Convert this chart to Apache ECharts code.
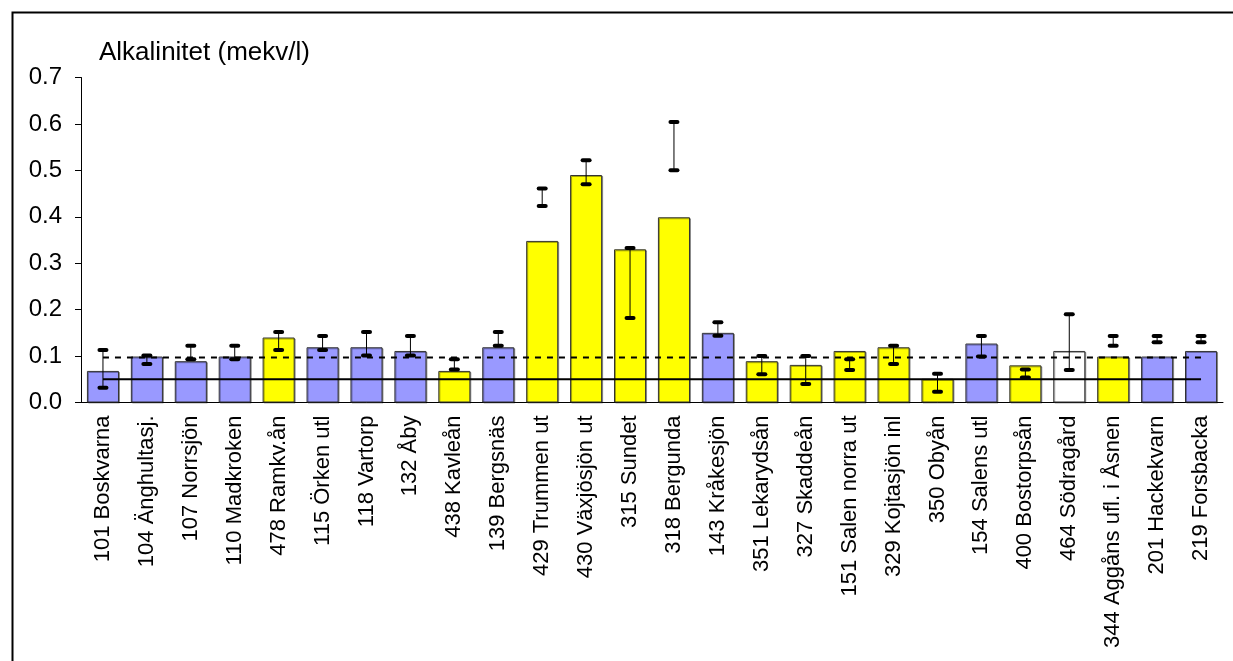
<!DOCTYPE html>
<html>
<head>
<meta charset="utf-8">
<script src="https://cdn.jsdelivr.net/npm/echarts@6/dist/echarts.min.js"></script>
<style>html,body{margin:0;padding:0;background:#fff;}#c{width:1233px;height:661px;}</style>
</head>
<body>
<div id="c"></div>
<script>
const categories = ['101 Boskvarna','104 Änghultasj.','107 Norrsjön','110 Madkroken','478 Ramkv.ån','115 Örken utl','118 Vartorp','132 Åby','438 Kavleån','139 Bergsnäs','429 Trummen ut','430 Växjösjön ut','315 Sundet','318 Bergunda','143 Kråkesjön','351 Lekarydsån','327 Skaddeån','151 Salen norra ut','329 Kojtasjön inl','350 Obyån','154 Salens utl','400 Bostorpsån','464 Södragård','344 Aggåns ufl. i Åsnen','201 Hackekvarn','219 Forsbacka'];
const values  = [0.068,0.099,0.089,0.099,0.140,0.119,0.119,0.111,0.068,0.119,0.348,0.490,0.330,0.399,0.150,0.089,0.081,0.111,0.119,0.051,0.127,0.080,0.111,0.099,0.099,0.111];
const errHigh = [0.113,0.101,0.122,0.122,0.152,0.143,0.152,0.143,0.093,0.152,0.461,0.522,0.333,0.604,0.173,0.100,0.100,0.093,0.122,0.062,0.143,0.071,0.190,0.143,0.143,0.143];
const errLow  = [0.032,0.083,0.093,0.093,0.113,0.113,0.101,0.101,0.071,0.122,0.423,0.470,0.182,0.500,0.144,0.061,0.040,0.070,0.083,0.023,0.099,0.054,0.070,0.122,0.130,0.130];
const group   = ['A','A','A','A','B','A','A','A','B','A','B','B','B','B','A','B','B','B','B','B','A','B','C','B','A','A'];
const refSolid = 0.05;
const refDashed = 0.097;
const yTicks = ['0.0','0.1','0.2','0.3','0.4','0.5','0.6','0.7'];
const yTitle = 'Alkalinitet (mekv/l)';

const groupColor = {A:'#9999FF', B:'#FFFF00', C:'#FFFFFF'};
const FONT = 'Liberation Sans, Arial, sans-serif';

const chart = echarts.init(document.getElementById('c'), null, {renderer:'canvas'});
chart.setOption({
  animation:false,
  backgroundColor:'#fff',
  graphic:[
    {type:'rect', left:10, top:10, shape:{x:0,y:0,width:1240,height:700}, style:{fill:'none', stroke:'#000', lineWidth:2}, z:-1},
    {type:'text', left:99, top:40, style:{text:yTitle, font:'26px ' + FONT, fill:'#000'}}
  ],
  grid:{left:81, right:10, top:77.5, bottom:258.5, containLabel:false},
  xAxis:{
    type:'category', data:categories,
    axisLine:{lineStyle:{color:'#000', width:1}},
    axisTick:{show:false},
    axisLabel:{rotate:90, interval:0, color:'#000', fontFamily:FONT, fontSize:22, margin:13}
  },
  yAxis:{
    type:'value', min:0, max:0.7, interval:0.1,
    axisLine:{show:true, lineStyle:{color:'#000', width:1}},
    axisTick:{show:true, length:6, lineStyle:{color:'#000'}},
    splitLine:{show:false},
    axisLabel:{color:'#000', fontFamily:FONT, fontSize:24, margin:19,
      formatter:(v)=>yTicks[Math.round(v*10)]}
  },
  series:[
    {
      type:'bar', barWidth:'73%',
      data: values.map((v,i)=>({value:v, itemStyle:{color:groupColor[group[i]]}})),
      itemStyle:{borderColor:'#333', borderWidth:1, shadowColor:'rgba(0,0,0,0.35)', shadowOffsetX:1, shadowOffsetY:1},
      z:2
    },
    {
      type:'line', data:categories.map(()=>refSolid), symbol:'none',
      lineStyle:{color:'#000', width:2}, z:3
    },
    {
      type:'line', data:categories.map(()=>refDashed), symbol:'none',
      lineStyle:{color:'#000', width:2, type:[6,6]}, z:3
    },
    {
      type:'custom', z:4,
      data: categories.map((c,i)=>[i, errLow[i], errHigh[i]]),
      renderItem:(params, api)=>{
        const x = api.coord([api.value(0), 0])[0];
        const yl = api.coord([api.value(0), api.value(1)])[1];
        const yh = api.coord([api.value(0), api.value(2)])[1];
        const cw = 11, ch = 4;
        return {type:'group', children:[
          {type:'line', shape:{x1:x, y1:yl, x2:x, y2:yh}, style:{stroke:'#000', lineWidth:1}},
          {type:'rect', shape:{x:x-cw/2, y:yh-ch/2, width:cw, height:ch, r:2}, style:{fill:'#000'}},
          {type:'rect', shape:{x:x-cw/2, y:yl-ch/2, width:cw, height:ch, r:2}, style:{fill:'#000'}}
        ]};
      }
    }
  ]
});
</script>
</body>
</html>
